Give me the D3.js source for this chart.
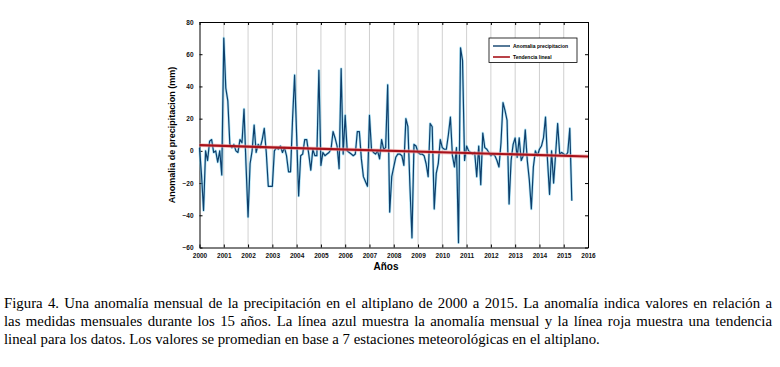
<!DOCTYPE html>
<html>
<head>
<meta charset="utf-8">
<script src="https://cdn.jsdelivr.net/npm/d3@7"></script>
<style>
	body { margin: 0; background: #fff; }
	svg { display: block; }
</style>
</head>
<body>
<svg id="grafico" width="780" height="367"></svg>
<script>

// anomalia mensual (mm), enero 2000 -> mayo 2015
const anomalia = [
	2, -15, -37, 0, -6, 6, 7, -1, 0, -7, 0, -15,
	70, 39, 31, 4, 2, 4, 0, -1, 7, 5, 26, -9,
	-41, -8, 0, 16, -1, 4, 2, 7, 14, -1, -22, -22,
	-22, 0, 2, 1, 3, -1, 2, -3, -13, -13, 20, 47,
	10, -28, -3, -2, 7, 7, -2, -12, 1, -3, -3, 50,
	-9, -1, -3, -2, -1, 1, 12, 8, 3, -11, 51, -2,
	22, 0, -1, -2, -3, -2, 12, 12, -5, -16, -19, -22,
	22, 1, -1, -2, 0, -5, 7, 1, 2, 41, -38, -16,
	-10, -4, -2, -2, -3, -9, 20, 15, -22, -54, 4, 3,
	-1, -2, -2, -3, -8, -16, 17, 15, -36, -14, -8, 7,
	2, 1, 1, 10, 21, -3, -10, 2, -57, 64, 56, -6,
	3, 0, -1, -2, -1, -16, 3, -21, 11, 2, 1, -1,
	-3, -2, -3, -6, -10, 5, 30, 25, 19, -33, -6, 4,
	8, -4, 8, -6, -3, 13, -6, -18, -36, -10, 0, -3,
	1, 3, 8, 21, -6, -27, 0, -20, -2, 17, -2, -1,
	-2, -3, -1, 14, -31
];
const anioInicio = 2000;

// tendencia lineal (extremos)
const tendenciaAnios = [2000, 2016];
const tendenciaValores = [3.5, -3.5];

const ticksAnios = [2000, 2001, 2002, 2003, 2004, 2005, 2006, 2007, 2008,
	2009, 2010, 2011, 2012, 2013, 2014, 2015, 2016];
const ticksValores = [-60, -40, -20, 0, 20, 40, 60, 80];

const leyenda = ["Anomalia precipitacion", "Tendencia lineal"];

const leyenda_pie = [
	"Figura 4. Una anomalía mensual de la precipitación en el altiplano de 2000 a 2015. La anomalía indica valores en relación a",
	"las medidas mensuales durante los 15 años. La línea azul muestra la anomalía mensual y la línea roja muestra una tendencia",
	"lineal para los datos. Los valores se promedian en base a 7 estaciones meteorológicas en el altiplano."
];


class GraficoAnomalia {

	constructor(element_id) {
		this.element_id = element_id;
		this.plot = {left: 199.5, right: 588, top: 22, bottom: 247.5};
		this.axis_font_size = '6.5px';
		this.lineColor = "#0e3f6c";
		this.trendColor = "#a8121a";
		this.captionWidth = 768;
	}

	criar() {
		let self = this;
		let p = this.plot;
		let svg = d3.select('#' + this.element_id);

		var xScale = d3.scaleLinear()
			.domain([ticksAnios[0], ticksAnios[ticksAnios.length - 1]])
			.range([p.left, p.right]);

		var yScale = d3.scaleLinear()
			.domain([-60, 80])
			.range([p.bottom, p.top]);

		// -- GRID VERTICAL ------------------------------------------
		svg.append('g')
			.selectAll('line')
			.data(ticksAnios.slice(1, -1))
			.enter().append('line')
			.attr('x1', d => xScale(d)).attr('x2', d => xScale(d))
			.attr('y1', p.top).attr('y2', p.bottom)
			.attr('stroke', '#c4c4c4')
			.attr('stroke-width', 0.8);

		// -- EJES (caja con ticks hacia adentro) -------------------
		let axisBottom = d3.axisBottom(xScale).tickValues(ticksAnios)
			.tickSizeInner(-3).tickSizeOuter(0).tickPadding(6).tickFormat(d3.format('d'));
		let axisTop = d3.axisTop(xScale).tickValues(ticksAnios)
			.tickSizeInner(-3).tickSizeOuter(0).tickFormat('');
		let axisLeft = d3.axisLeft(yScale).tickValues(ticksValores)
			.tickSizeInner(-3).tickSizeOuter(0).tickPadding(6);
		let axisRight = d3.axisRight(yScale).tickValues(ticksValores)
			.tickSizeInner(-3).tickSizeOuter(0).tickFormat('');

		svg.append('g').attr('transform', 'translate(0,' + p.bottom + ')').call(axisBottom);
		svg.append('g').attr('transform', 'translate(0,' + p.top + ')').call(axisTop);
		svg.append('g').attr('transform', 'translate(' + p.left + ',0)').call(axisLeft);
		svg.append('g').attr('transform', 'translate(' + p.right + ',0)').call(axisRight);

		svg.selectAll('.domain').attr('stroke', '#000').attr('stroke-width', 1);
		svg.selectAll('.tick line').attr('stroke', '#000').attr('stroke-width', 1);
		svg.selectAll('.tick text')
			.attr('font-family', 'Liberation Sans, Arial, sans-serif')
			.attr('font-weight', 'bold')
			.style('font-size', self.axis_font_size)
			.attr('fill', '#111');

		// -- SERIE ------------------------------------------------
		let linea = d3.line()
			.x((d, i) => xScale(anioInicio + i / 12))
			.y(d => yScale(d));

		svg.append('path')
			.datum(anomalia)
			.attr('d', linea)
			.attr('fill', 'none')
			.attr('stroke', '#6fcdee')
			.attr('stroke-opacity', 0.55)
			.attr('stroke-width', 2.6)
			.attr('stroke-linejoin', 'round');

		svg.append('path')
			.datum(anomalia)
			.attr('d', linea)
			.attr('fill', 'none')
			.attr('stroke', self.lineColor)
			.attr('stroke-width', 1.2)
			.attr('stroke-linejoin', 'round');

		// -- TENDENCIA --------------------------------------------
		let tendencia = tendenciaAnios.map((a, i) => [a, tendenciaValores[i]]);
		let lineaT = d3.line().x(d => xScale(d[0])).y(d => yScale(d[1]));

		svg.append('path')
			.datum(tendencia)
			.attr('d', lineaT)
			.attr('stroke', '#f2a0a0')
			.attr('stroke-opacity', 0.6)
			.attr('stroke-width', 3.8);

		svg.append('path')
			.datum(tendencia)
			.attr('d', lineaT)
			.attr('stroke', self.trendColor)
			.attr('stroke-width', 2.2);

		// -- LEYENDA ----------------------------------------------
		let lg = svg.append('g').attr('transform', 'translate(489,38)');
		lg.append('rect')
			.attr('width', 88).attr('height', 24.5)
			.attr('fill', '#fff').attr('stroke', '#000').attr('stroke-width', 0.8);
		let colores = [self.lineColor, self.trendColor];
		leyenda.forEach(function(t, i) {
			let y = 8 + i * 11;
			lg.append('line')
				.attr('x1', 4).attr('x2', 21).attr('y1', y).attr('y2', y)
				.attr('stroke', colores[i]).attr('stroke-width', i == 0 ? 1.4 : 1.6);
			lg.append('text')
				.attr('x', 24).attr('y', y).attr('dy', '0.35em')
				.attr('font-family', 'Liberation Sans, Arial, sans-serif')
				.attr('font-weight', 'bold')
				.style('font-size', '5px')
				.text(t);
		});

		// -- TITULOS DE EJES --------------------------------------
		svg.append('text')
			.attr('x', 386).attr('y', 270)
			.attr('text-anchor', 'middle')
			.attr('font-family', 'Liberation Sans, Arial, sans-serif')
			.attr('font-weight', 'bold')
			.style('font-size', '10px')
			.text('Años');

		svg.append('text')
			.attr('transform', 'translate(175,135) rotate(-90)')
			.attr('text-anchor', 'middle')
			.attr('font-family', 'Liberation Sans, Arial, sans-serif')
			.attr('font-weight', 'bold')
			.style('font-size', '9px')
			.text('Anomalia de precipitacion (mm)');

		// -- PIE DE FIGURA (justificado por espacio entre palabras) --
		leyenda_pie.forEach(function(t, i) {
			let txt = svg.append('text')
				.attr('x', 4).attr('y', 308 + i * 18)
				.attr('font-family', 'Liberation Serif, Times New Roman, serif')
				.style('font-size', '14.8px')
				.attr('fill', '#000')
				.text(t);
			if (i < 2) {
				let natural = txt.node().getComputedTextLength();
				let espacios = t.split(' ').length - 1;
				let extra = (self.captionWidth - natural) / espacios;
				txt.style('word-spacing', extra + 'px');
			}
		});
	}
}

let grafico = new GraficoAnomalia('grafico');
grafico.criar();

</script>
</body>
</html>
